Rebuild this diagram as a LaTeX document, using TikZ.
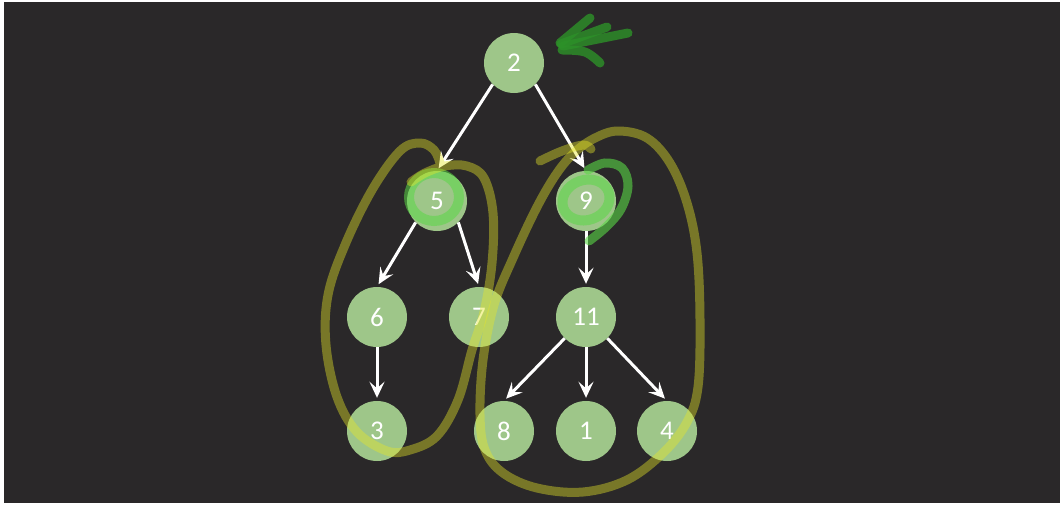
\documentclass[tikz,border=0pt]{standalone}
\usepackage{fontspec}
\setmainfont{Carlito}
\usetikzlibrary{arrows.meta}
\definecolor{bg}{RGB}{42,40,41}
\definecolor{vgreen}{RGB}{158,198,137}
\definecolor{loopolive}{RGB}{230,230,40}
\definecolor{marker}{RGB}{90,215,70}
\definecolor{pointer}{RGB}{45,145,40}
\tikzset{
  vert/.style={circle, fill=vgreen, minimum size=60pt, inner sep=0pt, text=white,
    font=\fontsize{27}{27}\selectfont},
  link/.style={draw=white, line width=3pt, shorten >=3pt,
    -{Stealth[length=16pt,width=15pt,inset=6.5pt]}},
  lasso/.style={draw=loopolive, draw opacity=0.42, line width=9pt, line cap=round, line join=round},
  ring/.style={draw=marker, draw opacity=0.55, line width=10pt, line cap=round},
  scrawl/.style={draw=pointer, draw opacity=0.8, line width=9pt, line cap=round, line join=round},
}
\begin{document}
\begin{tikzpicture}[x=1pt,y=-1pt]
\useasboundingbox (0,0) rectangle (1064,506);
\fill[white] (0,0) rectangle (1064,506);
\fill[bg] (4,2) rectangle (1060,503);

% tree
\node[vert] (n2)  at (514,63)  {2};
\node[vert] (n5)  at (437,201) {5};
\node[vert] (n9)  at (586,201) {9};
\node[vert] (n6)  at (377,317) {6};
\node[vert] (n7)  at (479,317) {7};
\node[vert] (n11) at (586,317) {11};
\node[vert] (n3)  at (377,431) {3};
\node[vert] (n8)  at (504,431) {8};
\node[vert] (n1)  at (586,431) {1};
\node[vert] (n4)  at (667,431) {4};

\draw[link] (n2.south west) -- (n5.north);
\draw[link] (n2.south east) -- (n9.north);
\draw[link] (n5.south west) -- (n6.north);
\draw[link] (n5.south east) -- (n7.north);
\draw[link] (n9.south) -- (n11.north);
\draw[link] (n6.south) -- (n3.north);
\draw[link] (n11.south west) -- (n8.north);
\draw[link] (n11.south) -- (n1.north);
\draw[link] (n11.south east) -- (n4.north);

% highlighter marks on 5 and 9
\draw[ring] (434,197) ellipse [x radius=25, y radius=24];
\draw[ring, rotate around={20:(586,200)}] (586,200) ellipse [x radius=24, y radius=20];
\draw[ring, line width=9pt, draw opacity=0.6]
  plot[smooth, tension=0.6] coordinates {(588,170) (605,163) (622,168) (628,186) (621,209) (606,227) (589,241)};

% lassos around the two subtrees
\draw[lasso] plot[smooth, tension=0.6] coordinates {
  (440,163) (434,150) (420,143) (400,151) (372,190) (345,245) (328,295) (326,345)
  (337,397) (357,432) (387,451) (410,450) (437,436) (458,400) (472,350) (484,312)
  (492,263) (493,213) (484,178) (467,166) (445,166) (425,173) (411,182)};
\draw[lasso] plot[smooth cycle, tension=0.6] coordinates {
  (480,415) (483,360) (494,305) (513,258) (537,207) (557,173) (575,152) (595,138)
  (618,131) (647,138) (670,163) (687,203) (697,253) (700,320) (698,387) (687,422)
  (663,453) (627,480) (583,492) (537,488) (503,473) (485,450)};
\draw[lasso] plot[smooth, tension=0.6] coordinates {(540,161) (562,151) (583,145) (591,149)};

% pointer scribble next to the root
\draw[scrawl] (560,43) -- (590,18);
\draw[scrawl] (561,44) -- (607,27);
\draw[scrawl] (563,46) -- (628,33);
\draw[scrawl] plot[smooth, tension=0.6] coordinates {(562,50) (585,52) (600,63)};
\end{tikzpicture}
\end{document}
